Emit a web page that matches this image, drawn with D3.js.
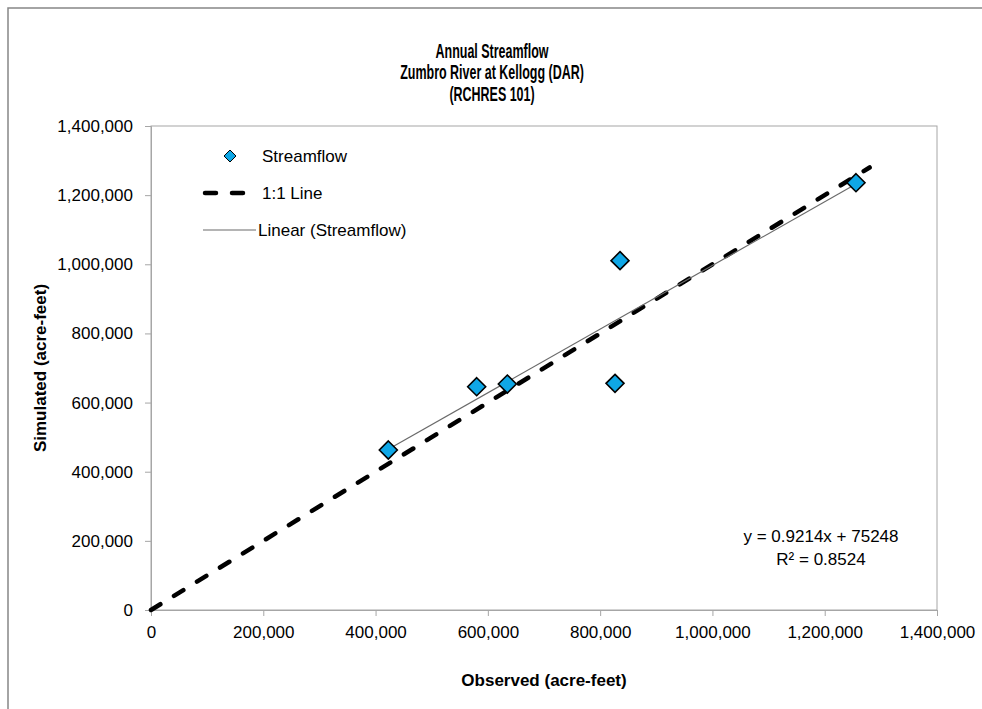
<!DOCTYPE html>
<html><head><meta charset="utf-8">
<script src="https://cdn.jsdelivr.net/npm/d3@7"></script>
<style>
html,body{margin:0;padding:0;background:#fff;}
svg{display:block;}
text{font-family:"Liberation Sans",Arial,sans-serif;fill:#000;}
</style></head>
<body>
<svg id="chart" width="982" height="709"></svg>
<script>
// ---- data ----
const titleLines = ["Annual Streamflow", "Zumbro River at Kellogg (DAR)", "(RCHRES 101)"];
const observed  = [422700, 580100, 634700, 835400, 826500, 1255700];
const simulated = [462800, 645900, 653700, 1010400, 655700, 1236000];
const oneToOne = [0, 1280000];
const xTicks = [0, 200000, 400000, 600000, 800000, 1000000, 1200000, 1400000];
const yTicks = [0, 200000, 400000, 600000, 800000, 1000000, 1200000, 1400000];
const slope = 0.9214, intercept = 75248;
const equationLines = ["y = 0.9214x + 75248", "R² = 0.8524"];
const legendLabels = ["Streamflow", "1:1 Line", "Linear (Streamflow)"];
const xTitle = "Observed (acre-feet)";
const yTitle = "Simulated (acre-feet)";

const svg = d3.select("#chart");
const L = 151, R = 937, T = 126, B = 610;
const x = d3.scaleLinear().domain([0, 1400000]).range([L, R]);
const y = d3.scaleLinear().domain([0, 1400000]).range([B, T]);
const fmt = d3.format(",");

// outer chart border
svg.append("rect").attr("x", 8).attr("y", 8).attr("width", 1000).attr("height", 720)
  .attr("fill", "#fff").attr("stroke", "#868686").attr("stroke-width", 1.5);

// plot area border
svg.append("rect").attr("x", L).attr("y", T).attr("width", R - L).attr("height", B - T)
  .attr("fill", "none").attr("stroke", "#a6a6a6").attr("stroke-width", 1);

// axes
const xAxis = svg.append("g").attr("transform", `translate(0,${B})`)
  .call(d3.axisBottom(x).tickValues(xTicks).tickFormat(fmt).tickSize(6).tickPadding(10));
const yAxis = svg.append("g").attr("transform", `translate(${L},0)`)
  .call(d3.axisLeft(y).tickValues(yTicks).tickFormat(fmt).tickSize(6).tickPadding(12));
[xAxis, yAxis].forEach(g => {
  g.select(".domain").attr("stroke", "#a6a6a6");
  g.selectAll(".tick line").attr("stroke", "#a6a6a6");
  g.selectAll("text").attr("font-size", 17).attr("font-family", '"Liberation Sans",Arial,sans-serif').attr("fill", "#111");
});

// 1:1 line
svg.append("line")
  .attr("x1", x(oneToOne[0])).attr("y1", y(oneToOne[0]))
  .attr("x2", x(oneToOne[1])).attr("y2", y(oneToOne[1]))
  .attr("stroke", "#000").attr("stroke-width", 4.5)
  .attr("stroke-dasharray", "11,16").attr("stroke-linecap", "round");

// trend line
const xmin = d3.min(observed), xmax = d3.max(observed);
svg.append("line")
  .attr("x1", x(xmin)).attr("y1", y(slope * xmin + intercept))
  .attr("x2", x(xmax)).attr("y2", y(slope * xmax + intercept))
  .attr("stroke", "#6a6a6a").attr("stroke-width", 1.2);

// points
function diamondPath(r) { return `M0,${-r}L${r},0L0,${r}L${-r},0Z`; }
svg.append("g").selectAll("path").data(observed.map((o, i) => [o, simulated[i]])).join("path")
  .attr("d", diamondPath(9))
  .attr("transform", d => `translate(${x(d[0])},${y(d[1])})`)
  .attr("fill", "#0fa7e6").attr("stroke", "#000").attr("stroke-width", 1.6);

// title (condensed bold)
svg.append("g").attr("transform", "translate(492,0) scale(0.64,1)")
  .selectAll("text").data(titleLines).join("text")
  .attr("x", 0).attr("y", (d, i) => 58 + i * 21.5)
  .attr("text-anchor", "middle").attr("font-size", 19.5).attr("font-weight", "bold")
  .text(d => d);

// axis titles
svg.append("text").attr("x", (L + R) / 2).attr("y", 686).attr("text-anchor", "middle")
  .attr("font-size", 17).attr("font-weight", "bold").text(xTitle);
svg.append("text").attr("transform", `translate(46,${(T + B) / 2}) rotate(-90)`)
  .attr("text-anchor", "middle").attr("font-size", 17).attr("font-weight", "bold").text(yTitle);

// legend
const lg = svg.append("g");
const ly = [156, 193, 230];
lg.append("path").attr("d", diamondPath(6)).attr("transform", `translate(230,${ly[0]})`)
  .attr("fill", "#0fa7e6").attr("stroke", "#000").attr("stroke-width", 1);
lg.append("line").attr("x1", 205).attr("x2", 245).attr("y1", ly[1]).attr("y2", ly[1])
  .attr("stroke", "#000").attr("stroke-width", 4.5).attr("stroke-dasharray", "11,16").attr("stroke-linecap", "round");
lg.append("line").attr("x1", 203).attr("x2", 256).attr("y1", ly[2]).attr("y2", ly[2])
  .attr("stroke", "#6a6a6a").attr("stroke-width", 1.2);
lg.selectAll("text").data(legendLabels).join("text")
  .attr("x", (d, i) => i === 2 ? 258 : 262).attr("y", (d, i) => ly[i] + 6)
  .attr("font-size", 17).text(d => d);

// equation
svg.append("g").selectAll("text").data(equationLines).join("text")
  .attr("x", 821).attr("y", (d, i) => 542 + i * 23).attr("text-anchor", "middle")
  .attr("font-size", 17).text(d => d);
</script>
</body></html>
